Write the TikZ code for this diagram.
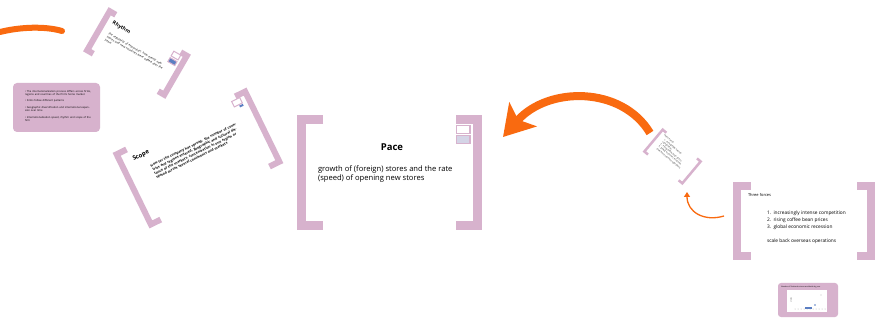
\documentclass[tikz,border=0pt]{standalone}
\usepackage{fontspec}
\setmainfont{Open Sans}
\usetikzlibrary{arrows.meta}
\definecolor{pz}{HTML}{D7B2CD}
\definecolor{orng}{HTML}{F96A10}
\definecolor{icblue}{HTML}{5B7EC2}
\definecolor{iclav}{HTML}{D4D4E6}
\newcommand\brframe[4]{%
  \draw[pz, line width=#3pt, line join=miter] ({-#1/2+#4},{-#2/2+#3/2}) -- ({-#1/2+#3/2},{-#2/2+#3/2}) -- ({-#1/2+#3/2},{#2/2-#3/2}) -- ({-#1/2+#4},{#2/2-#3/2});
  \draw[pz, line width=#3pt, line join=miter] ({#1/2-#4},{-#2/2+#3/2}) -- ({#1/2-#3/2},{-#2/2+#3/2}) -- ({#1/2-#3/2},{#2/2-#3/2}) -- ({#1/2-#4},{#2/2-#3/2});
}
\tikzset{
  txt/.style={inner sep=0pt, outer sep=0pt, align=left},
  iconw/.style={draw=pz, line width=1pt, fill=white},
}
\begin{document}
\begin{tikzpicture}[x=1pt,y=-1pt]
\useasboundingbox (0,0) rectangle (877,328);
\fill[white] (0,0) rectangle (877,328);

% top-left orange arc
\coordinate (arcA) at (0,32);
\coordinate (arcB) at (62,31);
\draw[orng, line width=6pt, line cap=round] (arcA) .. controls (20,27) and (45,26) .. (arcB);

% Rhythm frame
\begin{scope}[shift={(137,53)}, rotate=-30, transform shape]
  \brframe{95}{51}{6}{10}
  \node[txt, anchor=west, font=\bfseries\fontsize{5}{6}\selectfont] (rhythmT) at (-36,-14) {Rhythm};
  \node[txt, anchor=north west, text width=66pt, font=\fontsize{2.9}{3.7}\selectfont] (rhythmB) at (-34,-4) {the regularity of expansion: how evenly new stores and new countries were added over the years};
  \draw[iconw] (31,-20) rectangle (39,-14.5);
  \draw[draw=pz, line width=1pt, fill=icblue] (31,-12.5) rectangle (39,-8);
\end{scope}

% pink notes box
\node[fill=pz, rounded corners=4pt, minimum width=87pt, minimum height=49pt, inner sep=0pt] (notes) at (56.5,107.5) {};
\begin{scope}[every node/.style={txt, anchor=north west, text width=68pt, font=\fontsize{2.6}{3.2}\selectfont}]
  \node (n1) at (25,90.5) {\textbullet\ The internationalization process differs across firms, regions and countries of the firm's home market};
  \node (n2) at (25,99.5) {\textbullet\ Firms follow different patterns};
  \node (n3) at (25,106.5) {\textbullet\ Geographic diversification and international expansion over time};
  \node (n4) at (25,116.5) {\textbullet\ Internationalization speed, rhythm and scope of the firm};
\end{scope}

% Scope frame
\begin{scope}[shift={(198,158)}, rotate=26, transform shape]
  \brframe{149}{84}{6}{14}
  \node[txt, anchor=west, font=\bfseries\fontsize{6}{7}\selectfont] (scopeT) at (-59,-27) {Scope};
  \node[txt, anchor=north west, text width=96pt, font=\bfseries\fontsize{3.4}{4.3}\selectfont] (scopeB) at (-46,-15) {How far the company has spread: the number of countries and regions entered, geographic and cultural distance of the markets, concentration in one region or spread across several continents and markets};
  \draw[iconw] (55,-36) rectangle (64,-30);
  \fill[icblue] (60,-29) rectangle (64,-27);
\end{scope}

% Pace frame
\begin{scope}[shift={(389.5,172.5)}]
  \brframe{185}{115}{9}{26}
\end{scope}
\node[txt, font=\bfseries\fontsize{9.5}{12}\selectfont] (pace) at (392,147.5) {Pace};
\node[txt, anchor=north west, font=\fontsize{7.6}{9.3}\selectfont] (paceB) at (318,165.5) {growth of (foreign) stores and the rate\\(speed) of opening new stores};
\draw[draw=pz, line width=1.2pt, fill=white] (456.5,125.5) rectangle (470,133.5);
\draw[draw=pz, line width=1.2pt, fill=iclav] (456.5,135.5) rectangle (470,143.5);

% small rotated frame
\begin{scope}[shift={(672.5,156.5)}, rotate=-40, transform shape]
  \brframe{52}{31}{2.5}{6}
  \node[txt, anchor=north west, text width=40pt, font=\fontsize{2.1}{2.8}\selectfont] (smallB) at (-20,-12) {Three forces\\[0.6pt]\hspace*{3pt}1. increasingly intense\\\hspace*{3pt}competition\\\hspace*{3pt}2. rising coffee bean prices\\\hspace*{3pt}3. global economic recession\\[0.6pt]\hspace*{3pt}scale back overseas operations};
\end{scope}

% big orange arrow
\coordinate (bigS) at (650,133);
\coordinate (bigE) at (503,137);
\draw[orng, line width=8pt, -{Stealth[width=36pt,length=30pt,inset=7pt]}] (bigS) .. controls (622,86) and (548,86) .. (bigE);

% small orange arrow
\coordinate (smS) at (724,216);
\coordinate (smE) at (687,192);
\draw[orng, line width=1.3pt, -{Triangle[width=6pt,length=5pt]}] (smS) .. controls (704,222) and (687,212) .. (smE);

% Three forces frame
\begin{scope}[shift={(804,221)}]
  \brframe{142}{78}{8}{18}
\end{scope}
\node[txt, anchor=west, font=\fontsize{4}{5}\selectfont] (tf) at (748,195) {Three forces};
\begin{scope}[every node/.style={txt, anchor=west, font=\fontsize{4.8}{6}\selectfont}]
  \node (tf1) at (767,213) {1.\ \ increasingly intense competition};
  \node (tf2) at (767,220) {2.\ \ rising coffee bean prices};
  \node (tf3) at (767,227) {3.\ \ global economic recession};
  \node (tf4) at (767,241) {scale back overseas operations};
\end{scope}

% small chart box
\node[fill=pz, rounded corners=3pt, minimum width=60pt, minimum height=34pt, inner sep=0pt] (chartbox) at (808,300) {};
\fill[white] (787,290) rectangle (827,312);
\node[txt, anchor=west, font=\fontsize{1.8}{2}\selectfont] (charth) at (781,287) {Number of Starbucks stores worldwide by year};
\node[txt, rotate=90, font=\fontsize{1.6}{2}\selectfont] (charty) at (791,300) {stores};
\foreach \xx in {795,798,801,804,807,810,813,816,819,822,825}
  \fill[gray!60] (\xx,309) circle (0.5pt);
\fill[icblue] (805,306.5) rectangle (812,308.5);
\fill[icblue] (815,305) circle (0.8pt);
\fill[gray!50] (821,295) circle (0.6pt);
\end{tikzpicture}
\end{document}
